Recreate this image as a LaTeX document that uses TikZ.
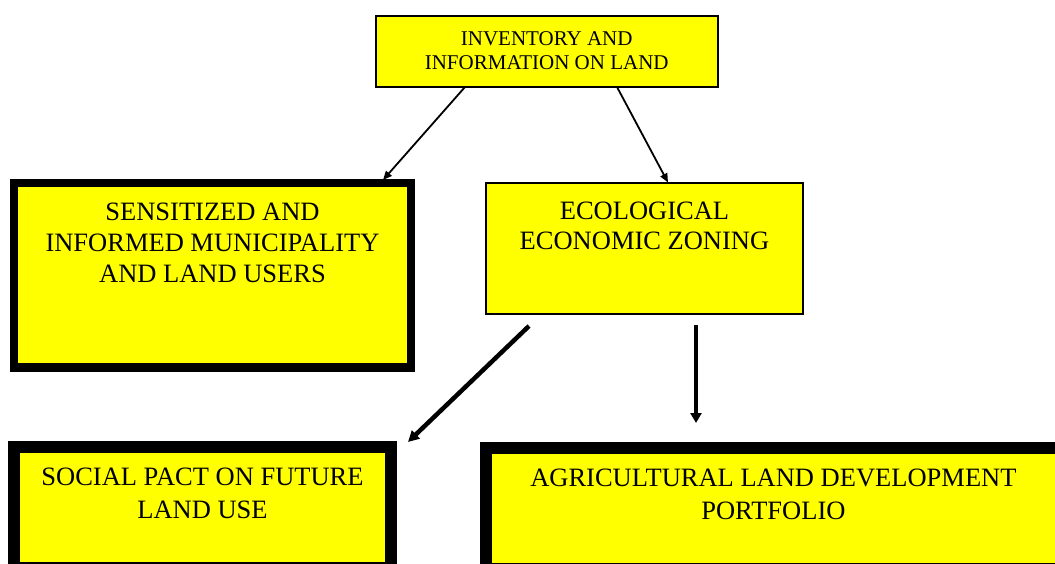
\documentclass[tikz,border=0pt]{standalone}
\usepackage{fontspec}
\setmainfont{Liberation Serif}
\usetikzlibrary{arrows.meta}
\definecolor{boxyellow}{RGB}{255,255,0}
\begin{document}
\begin{tikzpicture}[x=1pt,y=-1pt,
  box/.style={draw=black,fill=boxyellow,inner sep=0pt,outer sep=0pt,anchor=north west},
  thinarrow/.style={draw=black,line width=1.8pt,-{Triangle[length=9pt,width=7.5pt]}},
  thickarrow/.style={draw=black,line width=4.5pt,-{Triangle[length=11pt,width=11pt]}}]
\clip (0,0) rectangle (1055,564);
% boxes
\node[box,line width=2pt] (inv) at (375.5,16)
  {\parbox[c][71pt][t]{342.5pt}{\centering\fontsize{21}{24}\selectfont\rule{0pt}{30pt}INVENTORY AND\\INFORMATION ON LAND}};
\node[box,line width=8.5pt] (sens) at (14,183)
  {\parbox[c][184.5pt][t]{397pt}{\centering\fontsize{26.5}{31}\selectfont\rule{0pt}{37.7pt}SENSITIZED AND\\INFORMED MUNICIPALITY\\AND LAND USERS}};
\node[box,line width=2pt] (eco) at (486,183.5)
  {\parbox[c][130.8pt][t]{317pt}{\centering\fontsize{26.5}{30}\selectfont\rule{0pt}{35.8pt}ECOLOGICAL\\ECONOMIC ZONING}};
\node[box,line width=12pt] (soc) at (14,447)
  {\parbox[c][121pt][t]{377pt}{\centering\fontsize{26.5}{33}\selectfont\rule{0pt}{38.7pt}SOCIAL PACT ON FUTURE\\LAND USE}};
\node[box,line width=12pt] (agr) at (486.4,447.5)
  {\parbox[c][121pt][t]{600pt}{\centering\rightskip=26pt plus 1fil\fontsize{26.5}{32.5}\selectfont\rule{0pt}{39.2pt}AGRICULTURAL LAND DEVELOPMENT\\PORTFOLIO}};
% connector ends
\coordinate (c1s) at (465,87);
\coordinate (c1e) at (383,180);
\coordinate (c2s) at (617,87);
\coordinate (c2e) at (668,182.5);
\coordinate (c3s) at (529,326);
\coordinate (c3e) at (408,442);
\coordinate (c4s) at (696,325);
\coordinate (c4e) at (696,423);
\draw[thinarrow] (c1s) -- (c1e);
\draw[thinarrow] (c2s) -- (c2e);
\draw[thickarrow] (c3s) -- (c3e);
\draw[thickarrow,-{Triangle[length=10pt,width=11pt]}] (c4s) -- (c4e);
\end{tikzpicture}
\end{document}
